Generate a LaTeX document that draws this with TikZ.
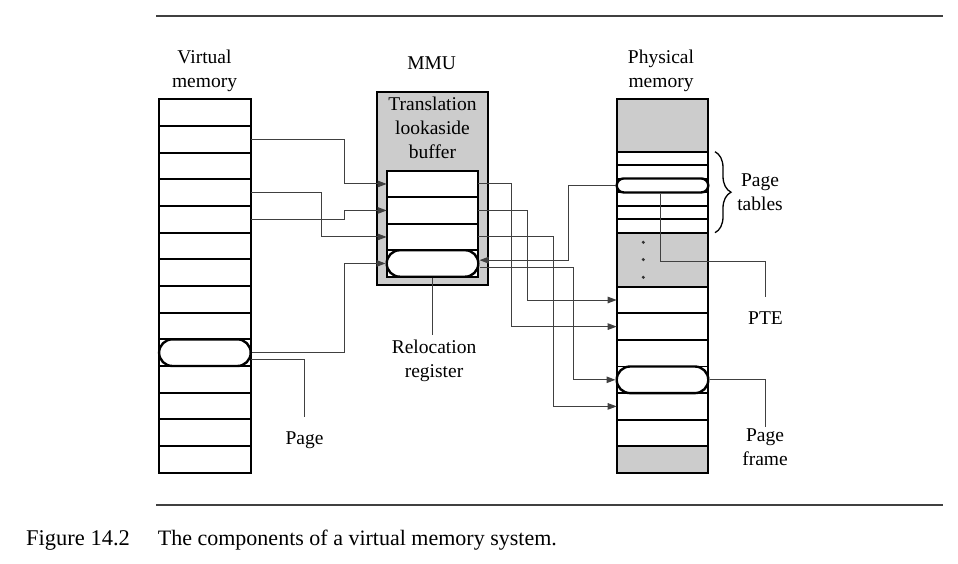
\documentclass[tikz,border=0pt]{standalone}
\usepackage{fontspec}
\setmainfont{Liberation Serif}
\usetikzlibrary{arrows.meta,decorations.pathreplacing,calc}
\begin{document}
\begin{tikzpicture}[x=1pt,y=-1pt,
  lbl/.style={font=\fontsize{19.5}{24}\selectfont, align=center, inner sep=0pt, anchor=north},
  cell/.style={draw=black, line width=1.8pt, minimum width=91.6pt, inner sep=0pt, outer sep=0pt},
  cellw/.style={cell, fill=white},
  cellg/.style={cell, fill=black!20},
  pill/.style={draw=black, line width=2.4pt, fill=white, inner sep=0pt, minimum width=91.6pt},
  conn/.style={draw=black!75, line width=1pt},
  arr/.style={conn, -{Triangle[length=9pt,width=6.5pt]}},
  rulestyle/.style={draw=black!75, line width=1.3pt},
  dotstyle/.style={fill=black!80},
  bracestyle/.style={line width=1.3pt, decorate, decoration={brace, amplitude=16pt}}
]
\useasboundingbox (0,0) rectangle (958,563);

% rules
\coordinate (r1a) at (156,16); \coordinate (r1b) at (943,16);
\coordinate (r2a) at (156,505); \coordinate (r2b) at (943,505);
\draw[rulestyle] (r1a) -- (r1b);
\draw[rulestyle] (r2a) -- (r2b);

% virtual memory
\foreach \i in {0,...,13}
  \node[cellw, minimum height=26.67pt] (v\i) at (204.9,{99.3+26.67*(\i+0.5)}) {};
\node[pill, minimum height=26.67pt, rounded corners=13.3pt] (vp) at (v9) {};

% MMU
\node[cellg, minimum width=110.7pt, minimum height=193.3pt] (mmu) at (432.7,188.4) {};
\foreach \i in {0,...,3}
  \node[cellw, minimum height=26.5pt] (t\i) at (432.5,{170.7+26.5*(\i+0.5)}) {};
\node[pill, minimum height=26.5pt, rounded corners=13.2pt] (rr) at (t3) {};

% physical memory
\node[cellg, minimum height=52.4pt] (ptop) at (662.5,125.5) {};
\foreach \i in {0,...,5}
  \node[cellw, minimum height=13.5pt] (p\i) at (662.5,{151.7+13.5*(\i+0.5)}) {};
\node[cellg, minimum height=54pt] (pmid) at (662.5,259.7) {};
\foreach \i in {0,...,5}
  \node[cellw, minimum height=26.6pt] (f\i) at (662.5,{286.7+26.6*(\i+0.5)}) {};
\node[cellg, minimum height=26.4pt] (pbot) at (662.5,459.5) {};
\node[pill, minimum height=14pt, rounded corners=7pt] (ptp) at (p2) {};
\node[pill, minimum height=26.6pt, rounded corners=13.3pt] (pfp) at (f3) {};

\fill[dotstyle] (643.3,242.3) circle (1.7pt);
\fill[dotstyle] (643.3,259.6) circle (1.7pt);
\fill[dotstyle] (643.3,277.3) circle (1.7pt);

% labels
\node[lbl] (vmlbl) at (204.5,50) {Virtual\\memory};
\node[lbl] (mmulbl) at (431.7,56.5) {MMU};
\node[lbl] (tlblbl) at (432.5,96.5) {Translation\\lookaside\\buffer};
\node[lbl] (pmlbl) at (661,50) {Physical\\memory};
\node[lbl] (ptlbl) at (760,174) {Page\\tables};
\node[lbl] (pte) at (765.5,311.7) {PTE};
\node[lbl] (pflbl) at (765,428.5) {Page\\frame};
\node[lbl] (pagelbl) at (304.5,431.7) {Page};
\node[lbl] (rellbl) at (434,339.5) {Relocation\\register};

% brace
\coordinate (bra) at (715,151.7); \coordinate (brb) at (715,232.7);
\draw[bracestyle] (bra) -- (brb);

% column coordinates
\coordinate (xa) at (344,0);
\coordinate (xb) at (321.3,0);
\coordinate (xc) at (511.7,0);
\coordinate (xd) at (527.3,0);
\coordinate (xe) at (553.3,0);
\coordinate (xf) at (573.3,0);
\coordinate (xg) at (568.3,0);
\coordinate (pteA) at (660.7,261.7);
\coordinate (rin) at ([yshift=3.3pt]rr.east);
\coordinate (rout) at ([yshift=-4pt]rr.east);
\coordinate (pgout) at ([yshift=-6.7pt]v9.east);
\coordinate (relend) at ([yshift=5pt]rellbl.north);

% virtual -> TLB
\draw[arr] (v1.east) -- (v1.east -| xa) |- (t0.west);
\draw[arr] (v3.east) -- (v3.east -| xb) |- (t2.west);
\draw[arr] (v4.east) -- (v4.east -| xa) |- (t1.west);
\draw[arr] (vp.east) -- (vp.east -| xa) |- (rr.west);
\draw[conn] (pgout) -| ([yshift=15pt]pagelbl.north);

% TLB -> physical
\draw[arr] (t0.east) -- (t0.east -| xc) |- (f1.west);
\draw[arr] (t1.east) -- (t1.east -| xd) |- (f0.west);
\draw[arr] (t2.east) -- (t2.east -| xe) |- (f4.west);
\draw[arr] (rout) -| (pfp.west -| xf) -- (pfp.west);
\draw[arr] (ptp.west) -| (rin -| xg) -- (rin);

% label leaders
\draw[conn] (rr.south) -- (rr.south |- relend);
\draw[conn] (ptp.south -| pteA) -- (pteA) -| ([yshift=15pt]pte.north);
\draw[conn] (pfp.east) -| ([yshift=2pt]pflbl.north);

% caption
\node[font=\fontsize{22.5}{26}\selectfont, anchor=base west, inner sep=0pt] (cap1) at (26,545) {Figure 14.2};
\node[font=\fontsize{22}{26}\selectfont, anchor=base west, inner sep=0pt] (cap2) at (157.7,545) {The components of a virtual memory system.};
\end{tikzpicture}
\end{document}
